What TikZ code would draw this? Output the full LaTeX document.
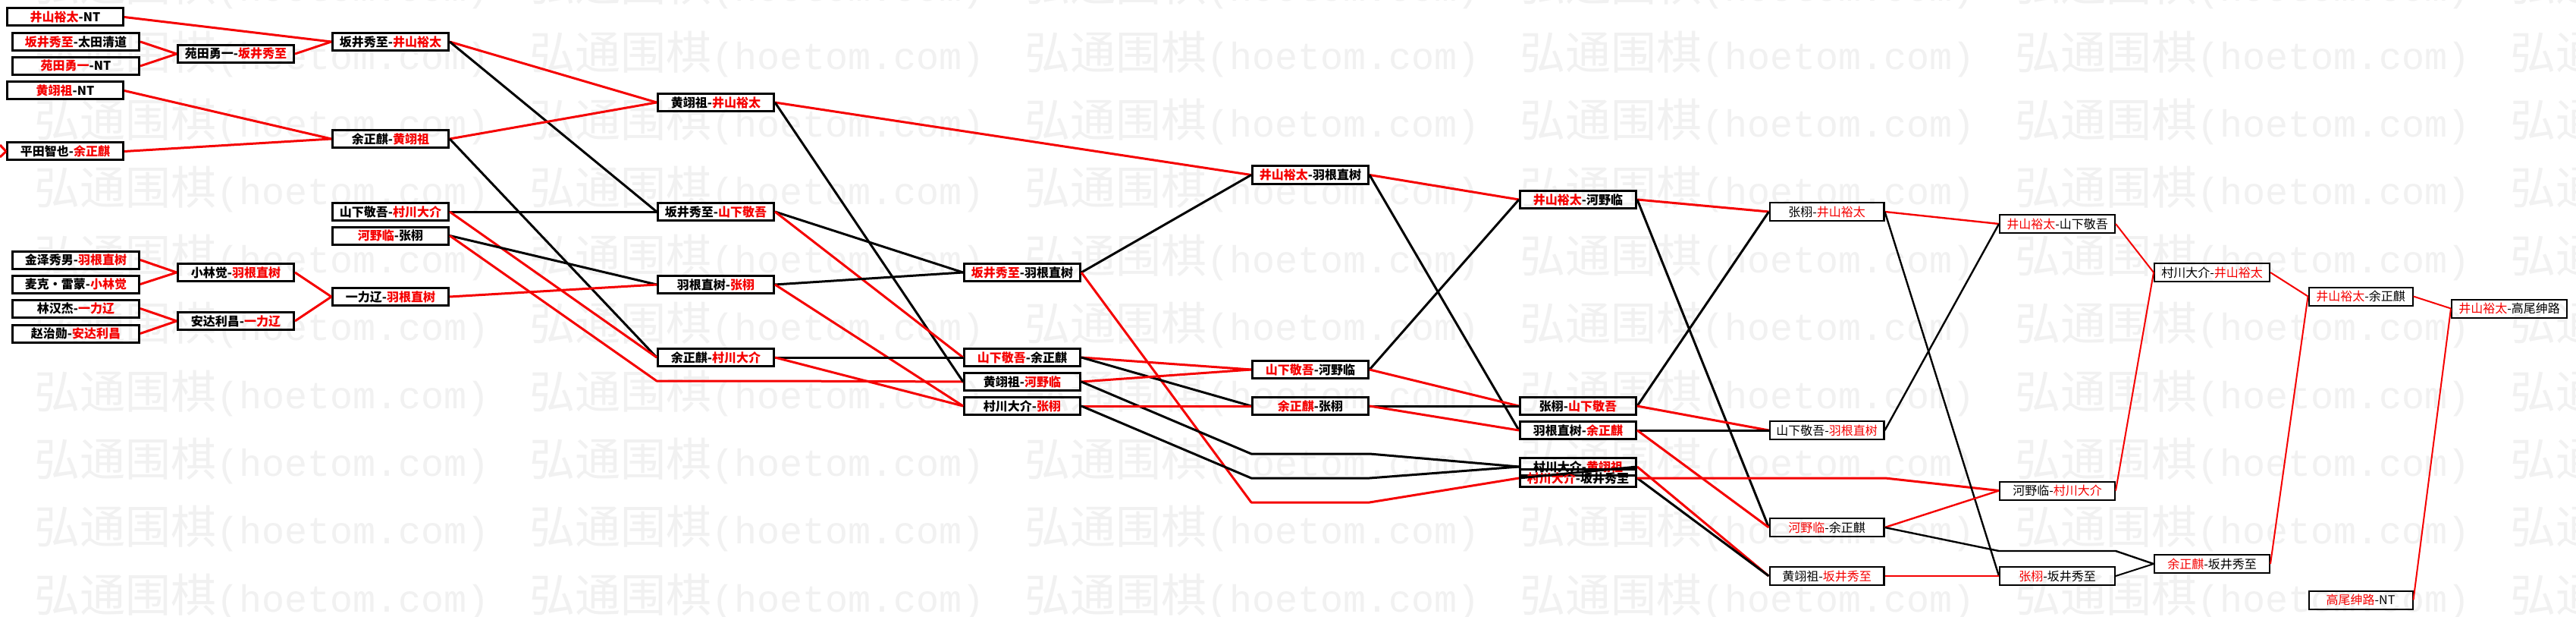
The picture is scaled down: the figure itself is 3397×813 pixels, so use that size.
\documentclass[tikz,border=0pt]{standalone}
\usepackage{fontspec}
\setmainfont{Noto Sans CJK SC}
\newfontfamily\wmlatin{Liberation Mono}
\definecolor{mred}{RGB}{245,0,0}
\definecolor{wmgray}{RGB}{241,241,241}
\newcommand\boxfont{\fontsize{16}{16}\selectfont\bfseries}
\newcommand\boxfontthin{\fontsize{16}{16}\selectfont}
\newcommand\wmfont{\fontsize{60}{60}\selectfont}
\newcommand\rd[1]{\textcolor{mred}{#1}}
\newcommand\wmtext{弘通围棋{\wmlatin\fontsize{50}{50}\selectfont(hoetom.com)}}
\tikzset{
  box/.style={draw=black, line width=3pt, minimum height=23pt, minimum width=153pt, inner sep=0pt, font=\boxfont},
  boxw/.style={box, minimum width=167pt},
  boxm/.style={draw=black, line width=2.4pt, minimum height=23.6pt, minimum width=150.6pt, inner sep=0pt, font=\boxfontthin},
  boxt/.style={draw=black, line width=2pt, minimum height=24pt, minimum width=152pt, inner sep=0pt, font=\boxfontthin},
  re/.style={draw=mred, line width=3pt, line join=round},
  be/.style={draw=black, line width=3pt, line join=round},
  rem/.style={draw=mred, line width=2.4pt, line join=round},
  bem/.style={draw=black, line width=2.4pt, line join=round},
  ret/.style={draw=mred, line width=2pt, line join=round},
  bet/.style={draw=black, line width=2pt, line join=round},
  wm/.style={anchor=west, text=wmgray, inner sep=0pt, font=\wmfont}
}
\begin{document}
\begin{tikzpicture}[x=1pt,y=-1pt]
\fill[white] (0,0) rectangle (3397,813);
\useasboundingbox (0,0) rectangle (3397,813);
% watermark
\foreach \r in {-1,...,8}{
  \foreach \c in {-1,...,5}{
    \node[wm] at ({45+653*\c},{71+89.4*\r}) {\wmtext};
  }
}
% column 1
\node[box]  (n01) at (86,22.5)   {\rd{井山裕太}-NT};
\node[boxw] (n02) at (100,55)    {\rd{坂井秀至}-太田清道};
\node[boxw] (n03) at (100,87)    {\rd{苑田勇一}-NT};
\node[box]  (n04) at (86,119.5)  {\rd{黄翊祖}-NT};
\node[box]  (n05) at (86,199.5)  {平田智也-\rd{余正麒}};
\node[boxw] (n06) at (100,342.5) {金泽秀男-\rd{羽根直树}};
\node[boxw] (n07) at (100,374.5) {麦克・雷蒙-\rd{小林觉}};
\node[boxw] (n08) at (100,406.5) {林汉杰-\rd{一力辽}};
\node[boxw] (n09) at (100,439.5) {赵治勋-\rd{安达利昌}};
% column 2
\node[box] (n10) at (311,71)  {苑田勇一-\rd{坂井秀至}};
\node[box] (n11) at (311,359) {小林觉-\rd{羽根直树}};
\node[box] (n12) at (311,423) {安达利昌-\rd{一力辽}};
% column 3
\node[box] (n13) at (515,55)    {坂井秀至-\rd{井山裕太}};
\node[box] (n14) at (515,183)   {余正麒-\rd{黄翊祖}};
\node[box] (n15) at (515,279)   {山下敬吾-\rd{村川大介}};
\node[box] (n16) at (515,310.5) {\rd{河野临}-张栩};
\node[box] (n17) at (515,391)   {一力辽-\rd{羽根直树}};
% column 4
\node[box] (n18) at (944,135) {黄翊祖-\rd{井山裕太}};
\node[box] (n19) at (944,279) {坂井秀至-\rd{山下敬吾}};
\node[box] (n20) at (944,375) {羽根直树-\rd{张栩}};
\node[box] (n21) at (944,471) {余正麒-\rd{村川大介}};
% column 5
\node[box] (n22) at (1348,359) {\rd{坂井秀至}-羽根直树};
\node[box] (n23) at (1348,471) {\rd{山下敬吾}-余正麒};
\node[box] (n24) at (1348,503) {黄翊祖-\rd{河野临}};
\node[box] (n25) at (1348,535) {村川大介-\rd{张栩}};
% column 6
\node[box] (n26) at (1728,230.5) {\rd{井山裕太}-羽根直树};
\node[box] (n27) at (1728,487)   {\rd{山下敬吾}-河野临};
\node[box] (n28) at (1728,535)   {\rd{余正麒}-张栩};
% column 7
\node[box] (n29) at (2081,263) {\rd{井山裕太}-河野临};
\node[box] (n30) at (2081,535) {张栩-\rd{山下敬吾}};
\node[box] (n31) at (2081,567) {羽根直树-\rd{余正麒}};
\node[box] (n32) at (2081,615) {村川大介-\rd{黄翊祖}};
\node[box] (n33) at (2081,630) {\rd{村川大介}-坂井秀至};
% column 8
\node[boxm] (n34) at (2409,279) {张栩-\rd{井山裕太}};
\node[boxm] (n35) at (2409,567) {山下敬吾-\rd{羽根直树}};
\node[boxm] (n36) at (2409,695) {\rd{河野临}-余正麒};
\node[boxm] (n37) at (2409,759) {黄翊祖-\rd{坂井秀至}};
% column 9
\node[boxt] (n38) at (2713,295)   {\rd{井山裕太}-山下敬吾};
\node[boxt] (n39) at (2713,646.5) {河野临-\rd{村川大介}};
\node[boxt] (n40) at (2713,759)   {\rd{张栩}-坂井秀至};
% column 10
\node[boxt] (n41) at (2917,359) {村川大介-\rd{井山裕太}};
\node[boxt] (n42) at (2917,743) {\rd{余正麒}-坂井秀至};
% column 11
\node[boxt, minimum width=137pt] (n43) at (3113,390.5) {\rd{井山裕太}-余正麒};
\node[boxt, minimum width=137pt] (n44) at (3113,790.5) {\rd{高尾绅路}-NT};
% column 12
\node[boxt] (n45) at (3309,406.5) {\rd{井山裕太}-高尾绅路};
% helper coordinates
\coordinate (f1) at (0,191);
\coordinate (f2) at (0,207);
\coordinate (d1) at (866,502);
\coordinate (d2) at (1022,502);
\coordinate (d3) at (1650,662);
\coordinate (d4) at (1806,662);
\coordinate (d5) at (1650,598);
\coordinate (d6) at (1806,598);
\coordinate (d7) at (1650,630);
\coordinate (d8) at (1806,630);
\coordinate (d9) at (2333,630);
\coordinate (d10) at (2486,630);
\coordinate (d11) at (2636,726);
\coordinate (d12) at (2790,726);
% connectors
\draw[re] (f1) -- (n05.west);
\draw[re] (f2) -- (n05.west);
\draw[re] (n01.east) -- (n13.west);
\draw[re] (n02.east) -- (n10.west);
\draw[re] (n03.east) -- (n10.west);
\draw[re] (n10.east) -- (n13.west);
\draw[re] (n04.east) -- (n14.west);
\draw[re] (n05.east) -- (n14.west);
\draw[re] (n06.east) -- (n11.west);
\draw[re] (n07.east) -- (n11.west);
\draw[re] (n08.east) -- (n12.west);
\draw[re] (n09.east) -- (n12.west);
\draw[re] (n11.east) -- (n17.west);
\draw[re] (n12.east) -- (n17.west);
\draw[re] (n13.east) -- (n18.west);
\draw[be] (n13.east) -- (n19.west);
\draw[re] (n14.east) -- (n18.west);
\draw[be] (n14.east) -- (n21.west);
\draw[be] (n15.east) -- (n19.west);
\draw[re] (n15.east) -- (n21.west);
\draw[be] (n16.east) -- (n20.west);
\draw[re] (n16.east) -- (d1) -- (d2) -- (n24.west);
\draw[re] (n17.east) -- (n20.west);
\draw[re] (n18.east) -- (n26.west);
\draw[be] (n18.east) -- (n24.west);
\draw[be] (n19.east) -- (n22.west);
\draw[re] (n19.east) -- (n23.west);
\draw[be] (n20.east) -- (n22.west);
\draw[re] (n20.east) -- (n25.west);
\draw[be] (n21.east) -- (n23.west);
\draw[re] (n21.east) -- (n25.west);
\draw[be] (n22.east) -- (n26.west);
\draw[re] (n22.east) -- (d3) -- (d4) -- (n33.west);
\draw[re] (n23.east) -- (n27.west);
\draw[be] (n23.east) -- (n28.west);
\draw[re] (n24.east) -- (n27.west);
\draw[be] (n24.east) -- (d5) -- (d6) -- (n32.west);
\draw[re] (n25.east) -- (n28.west);
\draw[be] (n25.east) -- (d7) -- (d8) -- (n32.west);
\draw[re] (n26.east) -- (n29.west);
\draw[be] (n26.east) -- (n31.west);
\draw[be] (n27.east) -- (n29.west);
\draw[re] (n27.east) -- (n30.west);
\draw[be] (n28.east) -- (n30.west);
\draw[re] (n28.east) -- (n31.west);
\draw[re] (n29.east) -- (n34.west);
\draw[be] (n29.east) -- (n36.west);
\draw[be] (n30.east) -- (n34.west);
\draw[re] (n30.east) -- (n35.west);
\draw[be] (n31.east) -- (n35.west);
\draw[re] (n31.east) -- (n36.west);
\draw[re] (n32.east) -- (n37.west);
\draw[be] (n33.east) -- (n37.west);
\draw[re] (n33.east) -- (d9) -- (d10) -- (n39.west);
\draw[be] (n33.west) -- (n32.east);
\draw[rem] (n34.east) -- (n38.west);
\draw[bem] (n34.east) -- (n40.west);
\draw[bem] (n35.east) -- (n38.west);
\draw[rem] (n36.east) -- (n39.west);
\draw[bem] (n36.east) -- (d11) -- (d12) -- (n42.west);
\draw[rem] (n37.east) -- (n40.west);
\draw[ret] (n38.east) -- (n41.west);
\draw[ret] (n39.east) -- (n41.west);
\draw[bet] (n40.east) -- (n42.west);
\draw[ret] (n41.east) -- (n43.west);
\draw[ret] (n42.east) -- (n43.west);
\draw[ret] (n43.east) -- (n45.west);
\draw[ret] (n44.east) -- (n45.west);
\end{tikzpicture}
\end{document}
